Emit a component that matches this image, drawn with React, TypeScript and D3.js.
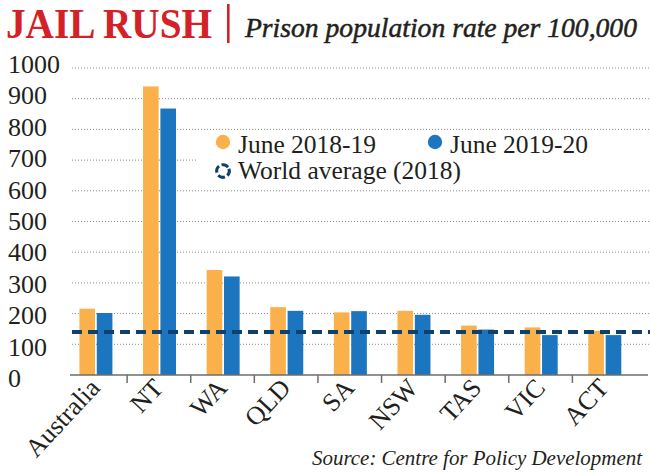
import React from 'react';
import * as d3 from 'd3';

const categories = ['Australia', 'NT', 'WA', 'QLD', 'SA', 'NSW', 'TAS', 'VIC', 'ACT'];
const june2018_19 = [216, 940, 342, 221, 204, 209, 161, 155, 144];
const june2019_20 = [202, 868, 321, 209, 208, 196, 148, 130, 130];
const worldAverage2018 = 140;
const yTicks = [0, 100, 200, 300, 400, 500, 600, 700, 800, 900, 1000];
const seriesNames = ['June 2018-19', 'June 2019-20'];
const worldLabel = 'World average (2018)';
const title = 'JAIL RUSH';
const subtitle = 'Prison population rate per 100,000';
const source = 'Source: Centre for Policy Development';

const W = 650;
const H = 474;
const ORANGE = '#FBB14B';
const BLUE = '#1C76BF';
const NAVY = '#0F416F';
const INK = '#231F20';
const SERIF = '"Liberation Serif", "Times New Roman", serif';

export default function App() {
  const x = d3.scaleBand<string>().domain(categories).range([63.5, 636]).padding(0);
  const sub = d3.scaleBand<string>().domain(seriesNames).range([-16.5, 16.5]).paddingInner(0.1);
  const y = d3.scaleLinear().domain([0, 1000]).range([375, 68]);
  const yLabel = d3.scaleLinear().domain([0, 1000]).range([387, 73]);
  const colors = [ORANGE, BLUE];
  const series = [june2018_19, june2019_20];
  const bw = x.bandwidth();

  return (
    <svg width={W} height={H} style={{ position: 'absolute', left: 0, top: 0, background: '#fff' }}>
      <rect width={W} height={H} fill="#fff" />
      {/* title */}
      <text x={6} y={37.5} fontFamily={SERIF} fontWeight="bold" fontSize={42} fill="#D42027"
        textLength={206} lengthAdjust="spacingAndGlyphs">{title}</text>
      <rect x={227} y={4} width={2.6} height={39} fill="#D42027" />
      <text x={245} y={37} fontFamily={SERIF} fontStyle="italic" fontSize={28} fill={INK}
        stroke={INK} strokeWidth={0.5}
        textLength={392} lengthAdjust="spacingAndGlyphs">{subtitle}</text>

      {/* gridlines */}
      {yTicks.filter(t => t > 0).map(t => (
        <line key={t} x1={72} x2={650} y1={y(t)} y2={y(t)} stroke="#8c8c8c" strokeWidth={1}
          strokeDasharray="1 2" />
      ))}
      {/* legend background */}
      <rect x={198} y={137} width={452} height={47} fill="#fff" />

      {/* bars */}
      {series.map((vals, si) =>
        categories.map((c, i) => {
          const cx = (x(c) as number) + bw / 2 + 0.6;
          return (
            <rect key={c + si} x={cx + (sub(seriesNames[si]) as number)} y={y(vals[i])}
              width={sub.bandwidth()} height={y(0) - y(vals[i])} fill={colors[si]} />
          );
        })
      )}

      {/* world average line */}
      <line x1={72} x2={650} y1={y(worldAverage2018)} y2={y(worldAverage2018)} stroke={NAVY}
        strokeWidth={4} strokeDasharray="10 6" />

      {/* x axis */}
      <line x1={70} x2={648} y1={y(0)} y2={y(0)} stroke="#6d6d6d" strokeWidth={1.5} />
      {categories.slice(1).map(c => (
        <line key={c} x1={x(c) as number} x2={x(c) as number} y1={y(0)} y2={y(0) + 8}
          stroke="#6d6d6d" strokeWidth={1.5} />
      ))}
      {categories.map(c => (
        <text key={c} transform={`translate(${(x(c) as number) + bw / 2 + 6},${389}) rotate(-47)`}
          textAnchor="end" fontFamily={SERIF} fontSize={26} fill={INK}>{c}</text>
      ))}

      {/* y labels */}
      {yTicks.map(t => (
        <text key={t} x={8} y={yLabel(t)} fontFamily={SERIF} fontSize={26} fill={INK}>{t}</text>
      ))}

      {/* legend */}
      <circle cx={223} cy={142} r={7.2} fill={ORANGE} />
      <text x={238} y={152.5} fontFamily={SERIF} fontSize={25.5} fill={INK}>{seriesNames[0]}</text>
      <circle cx={435} cy={142} r={7.2} fill={BLUE} />
      <text x={450} y={152.5} fontFamily={SERIF} fontSize={25.5} fill={INK}>{seriesNames[1]}</text>
      <circle cx={223} cy={171} r={6.3} fill="none" stroke={NAVY} strokeWidth={3}
        strokeDasharray="7 2.9" transform="rotate(-20 223 171)" />
      <text x={238} y={179} fontFamily={SERIF} fontSize={25.5} fill={INK}>{worldLabel}</text>

      {/* source */}
      <text x={312} y={465} fontFamily={SERIF} fontStyle="italic" fontSize={21.5} fill={INK}
        textLength={330} lengthAdjust="spacingAndGlyphs">{source}</text>
    </svg>
  );
}
